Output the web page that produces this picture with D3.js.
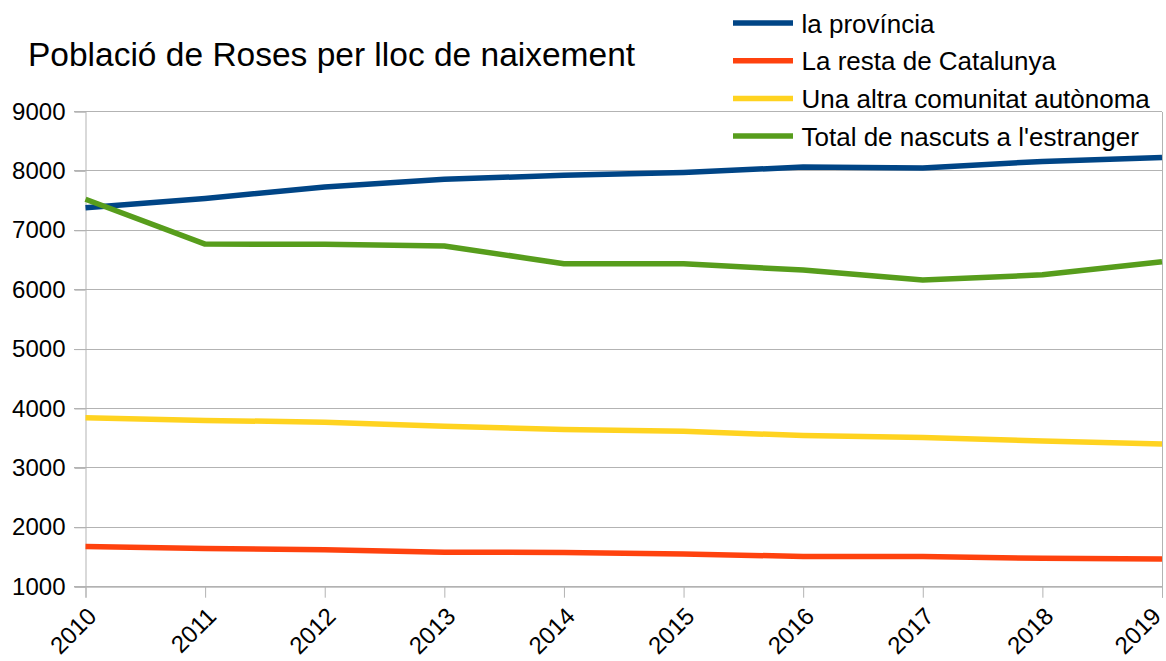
<!DOCTYPE html>
<html><head><meta charset="utf-8">
<script src="https://cdn.jsdelivr.net/npm/d3@7"></script>
<style>body{margin:0;background:#fff}svg{display:block;font-family:"Liberation Sans",Arial,sans-serif}</style>
</head><body><svg id="c" width="1166" height="661"></svg>
<script>
const years = [2010,2011,2012,2013,2014,2015,2016,2017,2018,2019];
const seriesNames = ["la província","La resta de Catalunya","Una altra comunitat autònoma","Total de nascuts a l'estranger"];
const provincia = [7380,7535,7730,7860,7925,7975,8065,8050,8160,8225];
const restaCatalunya = [1678,1644,1622,1582,1576,1550,1510,1510,1477,1466];
const altraComunitat = [3843,3800,3770,3703,3647,3617,3544,3510,3454,3403];
const estranger = [7522,6768,6765,6736,6438,6435,6330,6163,6250,6471];
const yTicks = [1000,2000,3000,4000,5000,6000,7000,8000,9000];
const colors = ["#004586","#ff420e","#ffd320","#579d1c"];
const title = "Població de Roses per lloc de naixement";

const data = [provincia, restaCatalunya, altraComunitat, estranger];
const svg = d3.select("#c");
const x = d3.scalePoint().domain(years).range([85.5, 1162]);
const y = d3.scaleLinear().domain([1000, 9000]).range([586.7, 111.5]);

// gridlines
svg.append("g").selectAll("line").data(yTicks).join("line")
  .attr("x1", 74).attr("x2", 1162).attr("y1", d => y(d)).attr("y2", d => y(d))
  .attr("stroke", "#b3b3b3").attr("stroke-width", 1).attr("shape-rendering","crispEdges");

// y axis
const ya = svg.append("g").attr("transform", "translate(85.5,0)")
  .call(d3.axisLeft(y).tickValues(yTicks).tickSize(11).tickPadding(9).tickFormat(d3.format("d")));
ya.select(".domain").attr("stroke", "#b3b3b3");
ya.selectAll(".tick line").attr("stroke", "#b3b3b3");
ya.selectAll("text").attr("font-size", 24).attr("fill", "#000").attr("font-family", "Liberation Sans, Arial, sans-serif");

// right border
svg.append("line").attr("x1", 1162).attr("x2", 1162).attr("y1", y(9000)).attr("y2", y(1000))
  .attr("stroke", "#b3b3b3").attr("shape-rendering","crispEdges");

// x axis
const xa = svg.append("g").attr("transform", `translate(0,${y(1000)})`)
  .call(d3.axisBottom(x).tickSize(11).tickFormat(d => d));
xa.select(".domain").attr("stroke", "#b3b3b3");
xa.selectAll(".tick line").attr("stroke", "#b3b3b3");
xa.selectAll("text").attr("font-size", 24).attr("fill", "#000")
  .attr("font-family", "Liberation Sans, Arial, sans-serif")
  .attr("text-anchor", "end").attr("dy", "0").attr("y", 0)
  .attr("transform", (d, i) => `translate(${i === years.length - 1 ? 0 : 12},31) rotate(-45)`);

// lines
const line = d3.line().x((d, i) => x(years[i])).y(d => y(d));
svg.append("g").selectAll("path").data(data).join("path")
  .attr("d", d => line(d)).attr("fill", "none")
  .attr("stroke", (d, i) => colors[i]).attr("stroke-width", 5.5)
  .attr("stroke-linejoin", "round");

// title
svg.append("text").attr("x", 28).attr("y", 66).attr("font-size", 33.5).attr("fill", "#000").text(title);

// legend
const lg = svg.append("g").selectAll("g").data(seriesNames).join("g")
  .attr("transform", (d, i) => `translate(733,${23 + i * 37.7})`);
lg.append("line").attr("x1", 0).attr("x2", 60).attr("stroke", (d, i) => colors[i]).attr("stroke-width", 5.5);
lg.append("text").attr("x", 68.5).attr("y", 9.5).attr("font-size", 26).attr("fill", "#000").text(d => d);
</script></body></html>
